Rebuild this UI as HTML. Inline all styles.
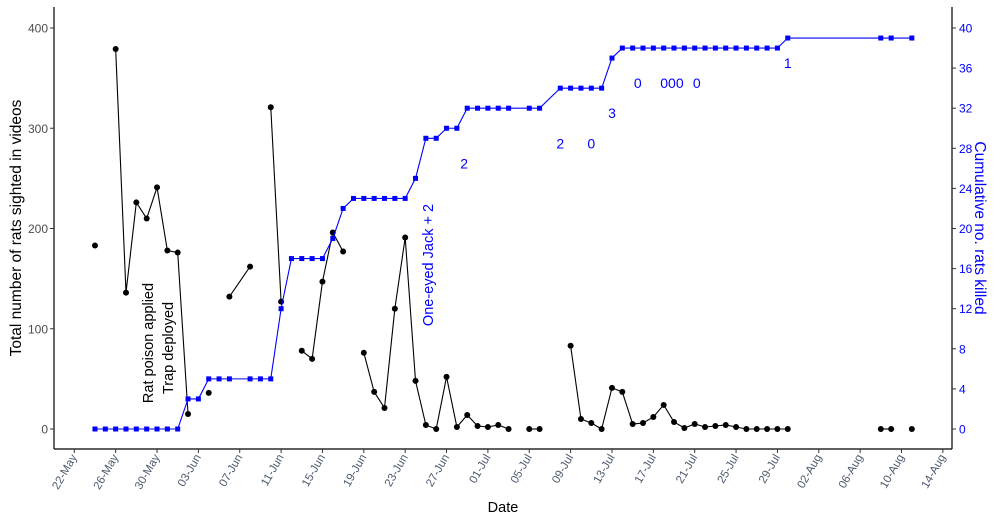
<!DOCTYPE html>
<html><head><meta charset="utf-8"><style>
html,body{margin:0;padding:0;background:#fff;}
svg text{font-family:"Liberation Sans",Arial,sans-serif;}
</style></head><body>
<svg id="chart" width="1000" height="522" viewBox="0 0 1000 522" xmlns="http://www.w3.org/2000/svg">
<rect x="0" y="0" width="1000" height="522" fill="#fff"/>
<g id="grid"></g>
<g id="series"></g>
<g id="axes"></g>
</svg>
<script>
// Day offsets from 22-May
const sightDays = [2,4,5,6,7,8,9,10,11,13,15,17,19,20,22,23,24,25,26,28,29,30,31,32,33,34,35,36,37,38,39,40,41,42,44,45,48,49,50,51,52,53,54,55,56,57,58,59,60,61,62,63,64,65,66,67,68,69,78,79,81];
const sightValues = [183,379,136,226,210,241,178,176,15,36,132,162,321,127,78,70,147,196,177,76,37,21,120,191,48,4,0,52,2,14,3,2,4,0,0,0,83,10,6,0,41,37,5,6,12,24,7,1,5,2,3,4,2,0,0,0,0,0,0,0,0];
const sightGroups = [1,2,2,2,2,2,2,2,2,3,4,4,5,5,6,6,6,6,6,7,7,7,7,7,7,7,7,7,7,7,7,7,7,7,8,8,9,9,9,9,9,9,9,9,9,9,9,9,9,9,9,9,9,9,9,9,9,9,10,10,11];
const killDays = [2,3,4,5,6,7,8,9,10,11,12,13,14,15,17,18,19,20,21,22,23,24,25,26,27,28,29,30,31,32,33,34,35,36,37,38,39,40,41,42,44,45,47,48,49,50,51,52,53,54,55,56,57,58,59,60,61,62,63,64,65,66,67,68,69,78,79,81];
const killValues = [0,0,0,0,0,0,0,0,0,3,3,5,5,5,5,5,5,12,17,17,17,17,19,22,23,23,23,23,23,23,25,29,29,30,30,32,32,32,32,32,32,32,34,34,34,34,34,37,38,38,38,38,38,38,38,38,38,38,38,38,38,38,38,38,39,39,39,39];
const xTickLabels = ["22-May","26-May","30-May","03-Jun","07-Jun","11-Jun","15-Jun","19-Jun","23-Jun","27-Jun","01-Jul","05-Jul","09-Jul","13-Jul","17-Jul","21-Jul","25-Jul","29-Jul","02-Aug","06-Aug","10-Aug","14-Aug"];
const xTickDays = [0,4,8,12,16,20,24,28,32,36,40,44,48,52,56,60,64,68,72,76,80,84];
const leftTicks = [0,100,200,300,400];
const rightTicks = [0,4,8,12,16,20,24,28,32,36,40];
const noteLabels = ["2","2","0","3","0","000","0","1"];
const noteDays = [37.7,47,50,52,54.5,57.8,60.2,69];
const noteKills = [26.5,28.5,28.5,31.5,34.5,34.5,34.5,36.5];

const NS="http://www.w3.org/2000/svg";
const L=54,R=952,T=7,B=449;
function xs(d){return 74.3+10.34*d;}
function yl(v){return 429-1.0025*v;}
function yr(v){return 429-10.025*v;}
function mk(tag,attrs,parent){const e=document.createElementNS(NS,tag);for(const k in attrs)e.setAttribute(k,attrs[k]);parent.appendChild(e);return e;}
const series=document.getElementById('series'), axes=document.getElementById('axes');

// black sightings lines by group
const groups={};
sightDays.forEach((d,i)=>{(groups[sightGroups[i]]=groups[sightGroups[i]]||[]).push([xs(d),yl(sightValues[i])]);});
for(const g in groups){ if(groups[g].length>1){
 const p=mk('polyline',{points:groups[g].map(q=>q.join(',')).join(' '),fill:'none',stroke:'#000','stroke-width':1.1},series);
 
 
}}
sightDays.forEach((d,i)=>{
 const c=mk('circle',{cx:xs(d),cy:yl(sightValues[i]),r:3,fill:'#000'},series);
 
 
});
// blue cumulative
const bl=mk('polyline',{points:killDays.map((d,i)=>xs(d)+','+yr(killValues[i])).join(' '),fill:'none',stroke:'#0000ff','stroke-width':1.1},series);


killDays.forEach((d,i)=>{
 const s=mk('rect',{x:xs(d)-2.5,y:yr(killValues[i])-2.5,width:5,height:5,fill:'#0000ff'},series);
 
 
});
noteLabels.forEach((t,i)=>{
 const e=mk('text',{x:xs(noteDays[i]),y:yr(noteKills[i])+5,'font-size':14,fill:'#0000ff','text-anchor':'middle'},series);
 e.textContent=t;
 
 
});
// rotated annotations
function rtext(txt,x,y,col,size,name){const e=mk('text',{x:0,y:0,transform:`translate(${x},${y}) rotate(-90)`,'font-size':size,fill:col,'text-anchor':'middle'},axes);e.textContent=txt;return e;}
rtext('Rat poison applied',153,343,'#000',14.5,'rat-poison-annotation');
rtext('Trap deployed',173,348,'#000',14.5,'trap-annotation');
rtext('One-eyed Jack + 2',433,265,'#0000ff',14.5,'one-eyed-jack-annotation');

// axes
mk('line',{x1:L,y1:T,x2:L,y2:B,stroke:'#000','stroke-width':1.2},axes);
mk('line',{x1:R,y1:T,x2:R,y2:B,stroke:'#000','stroke-width':1.2},axes);
mk('line',{x1:L,y1:B,x2:R,y2:B,stroke:'#000','stroke-width':1.2},axes);
leftTicks.forEach(v=>{
 mk('line',{x1:L-4,y1:yl(v),x2:L,y2:yl(v),stroke:'#333'},axes);
 const t=mk('text',{x:L-6,y:yl(v)+4.5,'font-size':12,fill:'#4d4d4d','text-anchor':'end'},axes);t.textContent=v;
 
 
});
rightTicks.forEach(v=>{
 mk('line',{x1:R,y1:yr(v),x2:R+4,y2:yr(v),stroke:'#333'},axes);
 const t=mk('text',{x:R+7,y:yr(v)+4.5,'font-size':12,fill:'#0000ff'},axes);t.textContent=v;
 
 
});
xTickDays.forEach((d,i)=>{
 const x=xs(d);
 mk('line',{x1:x,y1:B,x2:x,y2:B+4,stroke:'#333'},axes);
 const t=mk('text',{x:0,y:0,transform:`translate(${x+3},${B+8}) rotate(-60)`,'font-size':11.5,fill:'#4d5a6e','text-anchor':'end'},axes);t.textContent=xTickLabels[i];
 
 
});
const xt=mk('text',{x:503,y:512,'font-size':14.5,fill:'#000','text-anchor':'middle'},axes);xt.textContent='Date';


rtext('Total number of rats sighted in videos',21,228,'#000',15.5,'left-axis-title');
const rt=mk('text',{x:0,y:0,transform:'translate(975,228) rotate(90)','font-size':15.5,fill:'#0000ff','text-anchor':'middle'},axes);rt.textContent='Cumulative no. rats killed';


</script>
</body></html>
